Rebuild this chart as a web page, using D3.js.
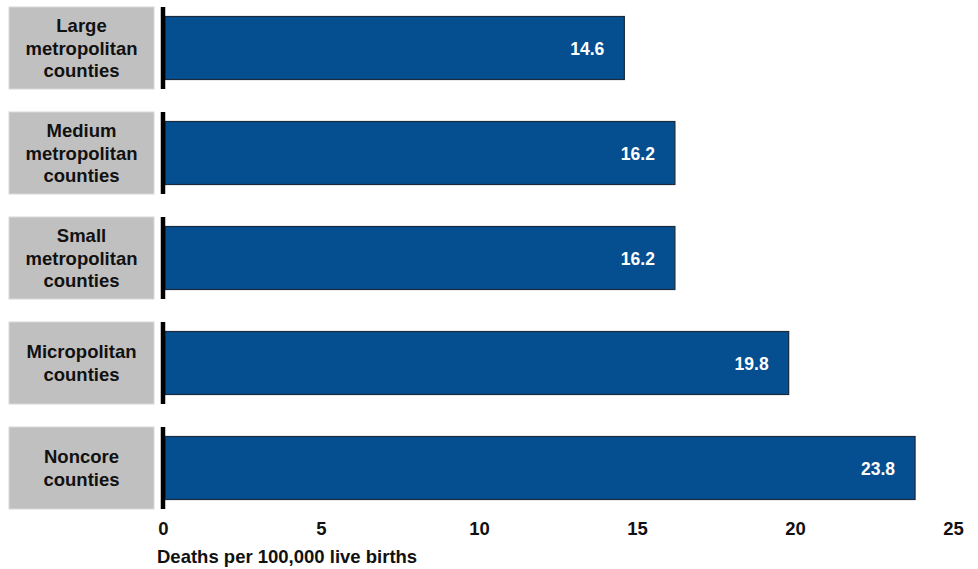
<!DOCTYPE html>
<html><head><meta charset="utf-8">
<script src="https://cdn.jsdelivr.net/npm/d3@7"></script>
<style>body{margin:0;background:#fff;} svg{display:block;font-family:"Liberation Sans",Arial,sans-serif;font-weight:bold;}</style>
</head><body>
<svg id="c" width="978" height="569"></svg>
<script>
const categories = [
  ["Large", "metropolitan", "counties"],
  ["Medium", "metropolitan", "counties"],
  ["Small", "metropolitan", "counties"],
  ["Micropolitan", "counties"],
  ["Noncore", "counties"]
];
const values = [14.6, 16.2, 16.2, 19.8, 23.8];
const tickValues = [0, 5, 10, 15, 20, 25];
const axisTitle = "Deaths per 100,000 live births";

const svg = d3.select("#c");
const x = d3.scaleLinear().domain([0, 25]).range([163, 953]);
const y = d3.scaleBand().domain(d3.range(values.length)).range([-4.5, 520.5]).paddingInner(0).paddingOuter(0);
const bw = y.bandwidth();
const barH = 63;
const boxH = 82;

const g = svg.append("g");
const rows = g.selectAll("g.row").data(values).join("g").attr("class","row")
  .attr("transform", (d,i) => `translate(0,${y(i) + bw/2})`);

// gray label boxes
rows.append("rect").attr("x", 9).attr("y", -boxH/2).attr("width", 145).attr("height", boxH)
  .attr("fill", "#c0c0c0").attr("stroke", "#d8d8d8").attr("stroke-width", 1);

rows.append("text").attr("text-anchor","middle").attr("font-size", 18.5).attr("fill","#111")
  .each(function(d,i){
    const lines = categories[i];
    const lh = 22.5;
    const t = d3.select(this);
    lines.forEach((l,k) => {
      t.append("tspan").attr("x", 81.5).attr("y", (k - (lines.length-1)/2) * lh + 6.5).text(l);
    });
  });

// bars
rows.append("rect").attr("x", x(0) + 2).attr("y", -barH/2)
  .attr("width", d => x(d) - x(0) - 2).attr("height", barH)
  .attr("fill", "#054e8f").attr("stroke", "#1b2a3d").attr("stroke-width", 1.2);

// axis segments
rows.append("line").attr("x1", x(0)).attr("x2", x(0)).attr("y1", -boxH/2).attr("y2", boxH/2)
  .attr("stroke", "#000").attr("stroke-width", 4.5);

// value labels
rows.append("text").attr("x", d => x(d) - 20).attr("y", 6.5).attr("text-anchor","end")
  .attr("font-size", 17.5).attr("fill","#fff").text(d => d.toFixed(1));

// x axis
const ax = svg.append("g").attr("transform", "translate(0,522)")
  .call(d3.axisBottom(x).tickValues(tickValues).tickSize(0).tickPadding(0).tickFormat(d3.format("d")));
ax.select(".domain").remove();
ax.selectAll("text").attr("font-size", 18.5).attr("fill","#111").attr("font-family","Liberation Sans, Arial, sans-serif").attr("font-weight","bold").attr("dy","0.71em");

svg.append("text").attr("x", 157).attr("y", 563).attr("font-size", 18.5).attr("fill","#111").text(axisTitle);
</script>
</body></html>
